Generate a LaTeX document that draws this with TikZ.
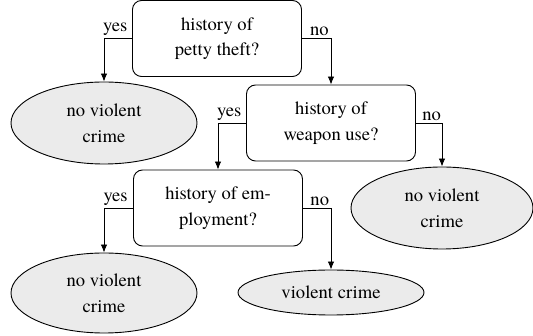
\documentclass[tikz,border=0pt]{standalone}
\usepackage{fontspec}
\setmainfont{texgyretermes}[Extension=.otf, UprightFont=*-regular, BoldFont=*-bold, ItalicFont=*-italic, BoldItalicFont=*-bolditalic]
\usetikzlibrary{arrows.meta,shapes.geometric}
\definecolor{leaffill}{HTML}{EBEBEB}
\tikzset{
  qbox/.style={draw, rounded corners=9pt, line width=0.9pt, minimum width=169pt, minimum height=76pt, align=center, font=\rmfamily\fontsize{18.6}{25.5}\selectfont},
  leaf/.style={draw, ellipse, fill=leaffill, line width=0.9pt, inner sep=0pt, align=center, font=\rmfamily\fontsize{18.6}{25.5}\selectfont},
  conn/.style={draw, line width=0.9pt, -{Latex[length=8pt,width=6.5pt]}},
  lbl/.style={above, inner sep=2pt, font=\rmfamily\fontsize{18.6}{22}\selectfont}
}
\begin{document}
\begin{tikzpicture}[x=1pt,y=-1pt]
\useasboundingbox (0,0) rectangle (533,336);
\node[qbox] (b1) at (217,38.5) {history of\\petty theft?};
\node[qbox] (b2) at (331,123) {history of\\weapon use?};
\node[qbox] (b3) at (218,208) {history of em-\\ployment?};
\node[leaf, minimum width=186pt, minimum height=82pt] (e1) at (104,123) {no violent\\crime};
\node[leaf, minimum width=182pt, minimum height=82pt] (e2) at (442,208) {no violent\\crime};
\node[leaf, minimum width=186pt, minimum height=80pt] (e3) at (104,293) {no violent\\crime};
\node[leaf, minimum width=186pt, minimum height=45pt] (e4) at (331,292.5) {violent crime};
\draw[conn] (b1.west) -| node[lbl, pos=0.3] {yes} (e1.north);
\draw[conn] (b1.east) -| node[lbl, pos=0.3] {no} (b2.north);
\draw[conn] (b2.west) -| node[lbl, pos=0.3] {yes} (b3.north);
\draw[conn] (b2.east) -| node[lbl, pos=0.3] {no} (e2.north);
\draw[conn] (b3.west) -| node[lbl, pos=0.3] {yes} (e3.north);
\draw[conn] (b3.east) -| node[lbl, pos=0.3] {no} (e4.north);
\end{tikzpicture}
\end{document}
